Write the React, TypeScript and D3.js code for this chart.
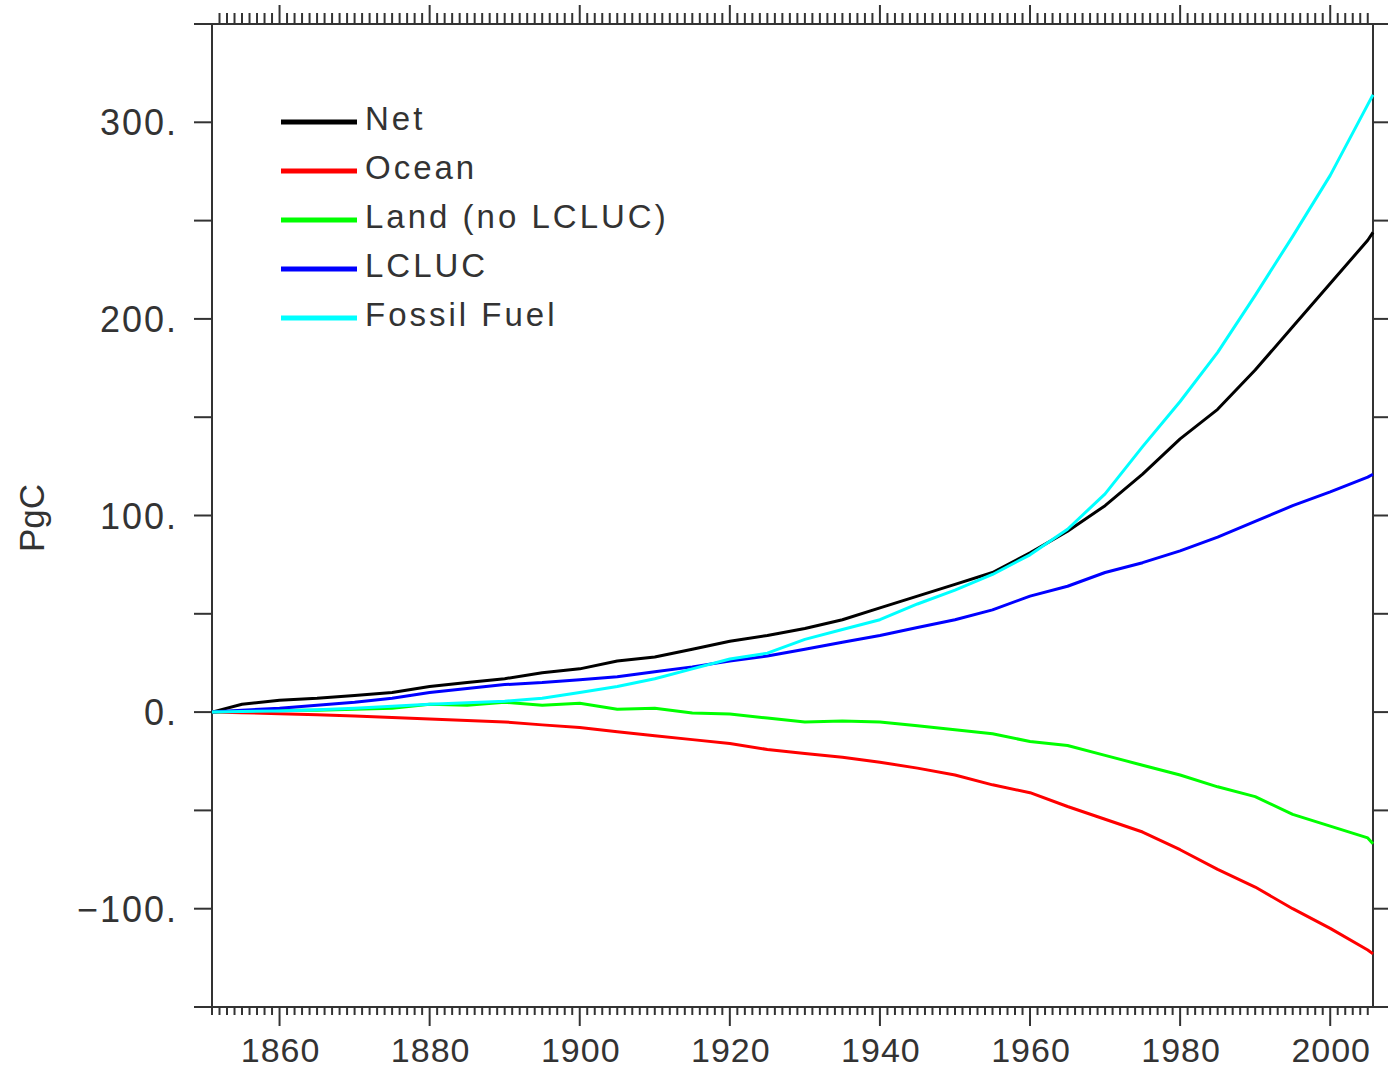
import { useRef, useEffect } from "react";
import * as d3 from "d3";

// cumulative carbon, PgC
const years = [
  1851, 1855, 1860, 1865, 1870, 1875, 1880, 1885, 1890, 1895, 1900, 1905,
  1910, 1915, 1920, 1925, 1930, 1935, 1940, 1945, 1950, 1955, 1960, 1965,
  1970, 1975, 1980, 1985, 1990, 1995, 2000, 2005, 2005.7,
];
const net = [
  0, 4, 6, 7, 8.5, 10, 13, 15, 17, 20, 22, 26, 28, 32, 36, 39, 42.5, 47, 53,
  59, 65, 71, 81, 92, 105, 121, 139, 154, 174, 196, 218, 240, 244,
];
const ocean = [
  0, -0.3, -0.8, -1.3, -2, -2.7, -3.5, -4.3, -5, -6.5, -7.8, -10, -12, -14,
  -16, -19, -21, -23, -25.5, -28.5, -32, -37, -41, -48, -54.5, -61, -70, -80,
  -89, -100, -110, -121, -123,
];
const land = [
  0, 0.5, 1, 1, 1.5, 2, 4, 3.5, 5, 3.5, 4.5, 1.5, 2, -0.5, -1, -3, -5, -4.5,
  -5, -7, -9, -11, -15, -17, -22, -27, -32, -38, -43, -52, -58, -64, -67,
];
const lcluc = [
  0, 1, 2, 3.5, 5, 7, 10, 12, 14, 15, 16.5, 18, 20.5, 23, 26, 28.5, 32, 35.5,
  39, 43, 47, 52, 59, 64, 71, 76, 82, 89, 97, 105, 112, 119.5, 121,
];
const fossil = [
  0, 0.3, 0.6, 1.2, 2, 3, 4, 4.8, 5.5, 7, 10, 13, 17, 22, 27, 30, 37, 42, 47,
  55, 62, 70, 80, 93, 111, 135, 158, 183, 212, 242, 273, 309, 314,
];

const seriesNames = ["Net", "Ocean", "Land (no LCLUC)", "LCLUC", "Fossil Fuel"];
const seriesColors = ["#000000", "#ff0000", "#00ff00", "#0000ff", "#00ffff"];
const seriesValues = [net, ocean, land, lcluc, fossil];

const yTickValues = [300, 200, 100, 0, -100];
const yTickLabels = ["300.", "200.", "100.", "0.", "\u2212100."];
const xTickYears = [1860, 1880, 1900, 1920, 1940, 1960, 1980, 2000];

export default function App() {
  const svgRef = useRef<SVGSVGElement>(null);

  useEffect(() => {
    const svgEl = svgRef.current;
    if (!svgEl) return;

    const width = 1388;
    const height = 1071;
    const margin = { top: 24, right: 15, bottom: 64, left: 212 };
    const axisColor = "#333";
    const textColor = "#333";
    const font = "'Liberation Sans', Arial, sans-serif";

    const svg = d3.select(svgEl).attr("width", width).attr("height", height);
    svg.selectAll("*").remove();

    const x = d3
      .scaleLinear()
      .domain([1851, 2005.7])
      .range([margin.left, width - margin.right]);
    const y = d3
      .scaleLinear()
      .domain([-150, 350])
      .range([height - margin.bottom, margin.top]);

    const [x0, x1] = x.range();
    const [yb, yt] = y.range();

    // frame
    svg
      .append("rect")
      .attr("x", x0)
      .attr("y", yt)
      .attr("width", x1 - x0)
      .attr("height", yb - yt)
      .attr("fill", "none")
      .attr("stroke", axisColor)
      .attr("stroke-width", 2);

    // y ticks every 50, both sides, outward
    const yTicks = d3.range(-150, 351, 50);
    const ticks = svg.append("g").attr("stroke", axisColor).attr("stroke-width", 2);
    yTicks.forEach((v) => {
      ticks.append("line").attr("x1", x0 - 18).attr("x2", x0).attr("y1", y(v)).attr("y2", y(v));
      ticks.append("line").attr("x1", x1).attr("x2", x1 + 15).attr("y1", y(v)).attr("y2", y(v));
    });

    // x ticks: yearly minor, 20-year major, top and bottom
    d3.range(1852, 2006).forEach((yr) => {
      const major = yr % 20 === 0;
      const px = x(yr);
      ticks.append("line").attr("x1", px).attr("x2", px).attr("y1", yt).attr("y2", yt - (major ? 19 : 11));
      ticks.append("line").attr("x1", px).attr("x2", px).attr("y1", yb).attr("y2", yb + (major ? 19 : 8));
    });
    ticks.append("line").attr("x1", x0).attr("x2", x0).attr("y1", yb).attr("y2", yb + 8);

    // tick labels
    svg
      .append("g")
      .selectAll("text")
      .data(yTickValues)
      .join("text")
      .attr("x", 178)
      .attr("y", (d) => y(d) + 13)
      .attr("text-anchor", "end")
      .attr("font-family", font)
      .attr("font-size", 36)
      .attr("letter-spacing", 2)
      .attr("fill", textColor)
      .text((d, i) => yTickLabels[i]);

    svg
      .append("g")
      .selectAll("text")
      .data(xTickYears)
      .join("text")
      .attr("x", (d) => x(d) + 1)
      .attr("y", 1062)
      .attr("text-anchor", "middle")
      .attr("font-family", font)
      .attr("font-size", 34)
      .attr("letter-spacing", 1)
      .attr("fill", textColor)
      .text((d) => String(d));

    // y axis title
    svg
      .append("text")
      .attr("transform", "translate(44,518) rotate(-90)")
      .attr("text-anchor", "middle")
      .attr("font-family", font)
      .attr("font-size", 35)
      .attr("fill", textColor)
      .text("PgC");

    // series lines
    const lineGen = d3
      .line<number>()
      .x((d, i) => x(years[i]))
      .y((d) => y(d));

    seriesValues.forEach((vals, i) => {
      svg
        .append("path")
        .datum(vals)
        .attr("fill", "none")
        .attr("stroke", seriesColors[i])
        .attr("stroke-width", 3)
        .attr("stroke-linejoin", "round")
        .attr("d", lineGen as any);
    });

    // legend
    const legend = svg.append("g");
    seriesNames.forEach((name, i) => {
      const ly = 122 + i * 49;
      legend
        .append("line")
        .attr("x1", 281)
        .attr("x2", 357)
        .attr("y1", ly)
        .attr("y2", ly)
        .attr("stroke", seriesColors[i])
        .attr("stroke-width", 5);
      legend
        .append("text")
        .attr("x", 365)
        .attr("y", ly + 8)
        .attr("font-family", font)
        .attr("font-size", 33)
        .attr("letter-spacing", 3)
        .attr("fill", textColor)
        .text(name);
    });
  }, []);

  return (
    <div style={{ position: "absolute", left: 0, top: 0 }}>
      <svg ref={svgRef} style={{ display: "block" }} />
    </div>
  );
}
